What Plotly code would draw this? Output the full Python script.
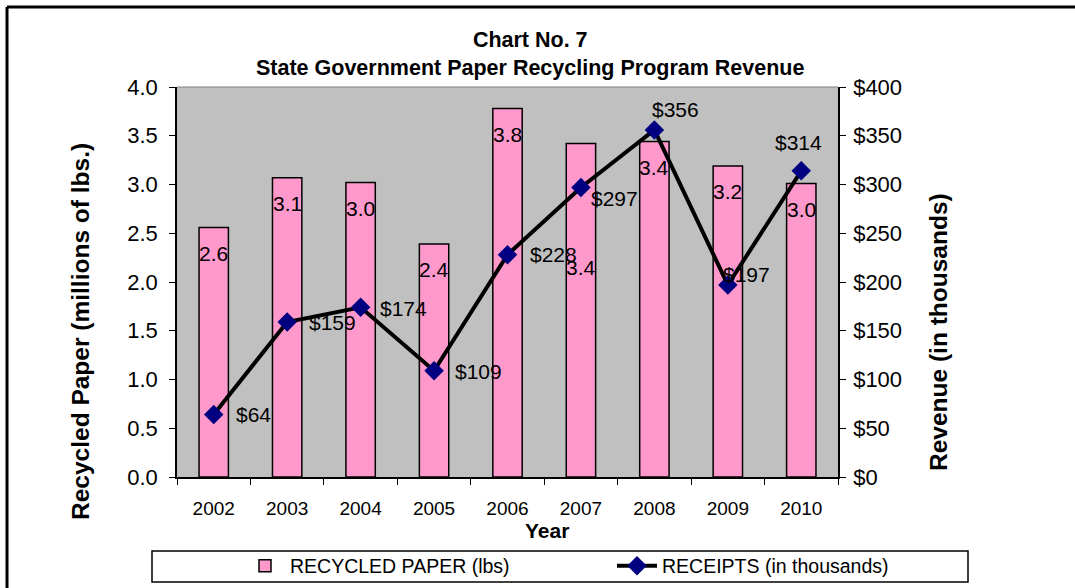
import plotly.graph_objects as go

# ---- data ----
years = ["2002", "2003", "2004", "2005", "2006", "2007", "2008", "2009", "2010"]
recycled_paper = [2.56, 3.07, 3.02, 2.39, 3.78, 3.42, 3.44, 3.19, 3.01]
receipts = [64, 159, 174, 109, 228, 297, 356, 197, 314]
left_ticks = [0.0, 0.5, 1.0, 1.5, 2.0, 2.5, 3.0, 3.5, 4.0]
right_ticks = [0, 50, 100, 150, 200, 250, 300, 350, 400]

# ---- style ----
FONT = "Liberation Sans, Arial, sans-serif"
bar_label_shift = [-26, -26, -26, -26, -26, -124, -26, -26, -26]
receipt_label_dx = [40, 45, 43, 44, 46, 34, 21, 19, -3]
receipt_label_dy = [0, -1, -1, -1, 0, -11, 20, 10, 28]

W, H = 1075, 588
L, R, T, B = 177, 838, 87, 477
def px(x):
    return (x - L) / (R - L)
def py(y):
    return (B - y) / (B - T)

fig = go.Figure()
fig.add_trace(go.Bar(
    x=years, y=recycled_paper, name="RECYCLED PAPER (lbs)",
    marker=dict(color="#FF99CC", line=dict(color="black", width=1.5)),
    width=0.4, yaxis="y", legend="legend",
))
fig.add_trace(go.Scatter(
    x=years, y=receipts, name="RECEIPTS (in thousands)", yaxis="y2", legend="legend2",
    mode="lines+markers",
    line=dict(color="black", width=4),
    marker=dict(symbol="diamond", size=15, color="#000080"),
))

annotations = []
for i, (v, s) in enumerate(zip(recycled_paper, bar_label_shift)):
    annotations.append(dict(x=i, y=v, xref="x", yref="y", text=f"{v:.1f}",
                            showarrow=False, yshift=s, xanchor="center", yanchor="middle",
                            font=dict(family=FONT, size=21, color="black")))
for i, (v, dx, dy) in enumerate(zip(receipts, receipt_label_dx, receipt_label_dy)):
    annotations.append(dict(x=i, y=v, xref="x", yref="y2", text=f"${v}",
                            showarrow=False, xshift=dx, yshift=dy,
                            xanchor="center", yanchor="middle",
                            font=dict(family=FONT, size=21, color="black")))
annotations += [
    dict(x=px(530), y=py(54), xref="paper", yref="paper",
         text="<b>Chart No. 7</b><br><b>State Government Paper Recycling Program Revenue</b>",
         showarrow=False, font=dict(family=FONT, size=21.5, color="black"),
         xanchor="center", yanchor="middle"),
    dict(x=px(80), y=py(332), xref="paper", yref="paper", textangle=-90,
         text="<b>Recycled Paper (millions of lbs.)</b>", showarrow=False,
         xanchor="center", yanchor="middle",
         font=dict(family=FONT, size=24.5, color="black")),
    dict(x=px(938), y=py(332), xref="paper", yref="paper", textangle=-90,
         text="<b>Revenue (in thousands)</b>", showarrow=False,
         xanchor="center", yanchor="middle",
         font=dict(family=FONT, size=24.5, color="black")),
    dict(x=px(547), y=py(530), xref="paper", yref="paper",
         text="<b>Year</b>", showarrow=False, xanchor="center", yanchor="middle",
         font=dict(family=FONT, size=21, color="black")),
]

shapes = [
    # outer frame (top & left)
    dict(type="line", xref="paper", yref="paper", x0=px(7), x1=px(1080), y0=py(7), y1=py(7),
         line=dict(color="black", width=3)),
    dict(type="line", xref="paper", yref="paper", x0=px(7), x1=px(7), y0=py(7), y1=py(600),
         line=dict(color="black", width=3)),
    # plot-area top border
    dict(type="line", xref="paper", yref="paper", x0=0, x1=1, y0=1, y1=1,
         line=dict(color="#808080", width=1)),
    # legend box
    dict(type="rect", xref="paper", yref="paper", x0=px(152), x1=px(968), y0=py(551), y1=py(582),
         line=dict(color="black", width=1.5), fillcolor="white", layer="below"),
]

leg_common = dict(orientation="h", yanchor="middle", y=py(566), xanchor="left",
                  font=dict(family=FONT, size=19.5, color="black"),
                  bgcolor="rgba(0,0,0,0)", borderwidth=0, itemwidth=40)

fig.update_layout(
    width=W, height=H,
    margin=dict(l=L, r=W - R, t=T, b=H - B, pad=0, autoexpand=False),
    paper_bgcolor="white", plot_bgcolor="#C0C0C0",
    font=dict(family=FONT, size=21, color="black"),
    showlegend=True,
    legend=dict(x=px(240), **leg_common),
    legend2=dict(x=px(612), **leg_common),
    xaxis=dict(type="category", range=[-0.5, 8.5], showline=True, linecolor="black",
               linewidth=1.5, ticks="outside", ticklen=6, tickcolor="black",
               tickson="boundaries", tickfont=dict(family=FONT, size=19), showgrid=False,
               ticklabelstandoff=13, automargin=False),
    yaxis=dict(range=[0, 4], tickvals=left_ticks, tickformat=".1f", showline=True,
               linecolor="black", linewidth=1.5, ticks="outside", ticklen=6,
               tickcolor="black", showgrid=False, zeroline=False,
               ticklabelstandoff=7, automargin=False,
               tickfont=dict(family=FONT, size=22)),
    yaxis2=dict(range=[0, 400], tickvals=right_ticks,
                ticktext=[f"${v}" for v in right_ticks], overlaying="y",
                side="right", showline=True, linecolor="black", linewidth=1.5,
                ticks="outside", ticklen=6, tickcolor="black", showgrid=False,
                zeroline=False, ticklabelstandoff=3, automargin=False,
                tickfont=dict(family=FONT, size=22)),
    annotations=annotations, shapes=shapes,
)

fig.write_html("out.html", config={"displayModeBar": False},
               post_script="document.body.style.margin='0px';")
